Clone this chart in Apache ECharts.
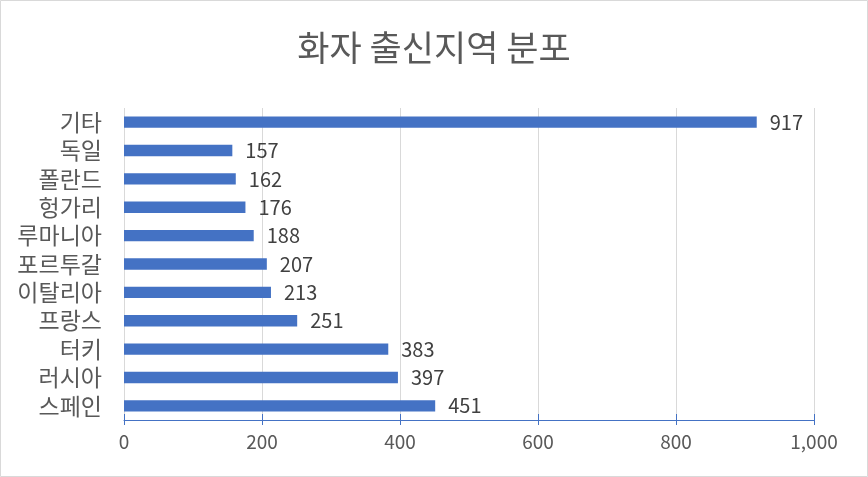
<!DOCTYPE html>
<html><head><meta charset="utf-8">
<script src="https://cdn.jsdelivr.net/npm/echarts@6/dist/echarts.min.js"></script>
<style>html,body{margin:0;padding:0;background:#fff}#c{width:868px;height:477px}</style>
</head><body><div id="c"></div>
<script>
const title = '화자 출신지역 분포';
const categories = ['스페인','러시아','터키','프랑스','이탈리아','포르투갈','루마니아','헝가리','폴란드','독일','기타'];
const values = [451,397,383,251,213,207,188,176,162,157,917];
const xTicks = [0,200,400,600,800,1000];

const FONT = '"Noto Sans CJK KR", "Noto Sans", sans-serif';
const chart = echarts.init(document.getElementById('c'));
const xMin = xTicks[0], xMax = xTicks[xTicks.length-1], xInt = xTicks[1]-xTicks[0];
chart.setOption({
  animation:false,
  backgroundColor:'#fff',
  title:{text:title,left:'center',top:25,textStyle:{fontFamily:FONT,fontSize:35,fontWeight:'normal',color:'#595959'}},
  graphic:[{type:'rect',shape:{x:0.5,y:0.5,width:867,height:476},style:{fill:'none',stroke:'#d9d9d9',lineWidth:1},silent:true}],
  grid:{left:124,right:54,top:108,bottom:57,containLabel:false},
  xAxis:[{
    type:'value',min:xMin,max:xMax,interval:xInt,position:'bottom',
    axisLine:{show:true,lineStyle:{color:'#4472C4',width:1}},
    axisTick:{show:true,inside:false,length:5,lineStyle:{color:'#4472C4'}},
    splitLine:{show:true,lineStyle:{color:'#d9d9d9',width:1}},
    axisLabel:{margin:12,fontFamily:FONT,fontSize:19,color:'#595959',
      formatter:v=>v.toLocaleString('en-US')}
  },{
    type:'value',min:xMin,max:xMax,interval:xInt,position:'bottom',
    axisLine:{show:false},
    axisTick:{show:true,inside:true,length:6,lineStyle:{color:'#4472C4'}},
    splitLine:{show:false},axisLabel:{show:false}
  }],
  yAxis:{
    type:'category',data:categories,
    axisLine:{show:false},axisTick:{show:false},
    axisLabel:{interval:0,hideOverlap:false,margin:22,fontFamily:FONT,fontSize:23,color:'#595959'}
  },
  series:[{
    type:'bar',data:values,barWidth:'40%',
    itemStyle:{color:'#4472C4'},
    label:{show:true,position:'right',distance:13,fontFamily:FONT,fontSize:20,color:'#404040'}
  }]
});
</script></body></html>
